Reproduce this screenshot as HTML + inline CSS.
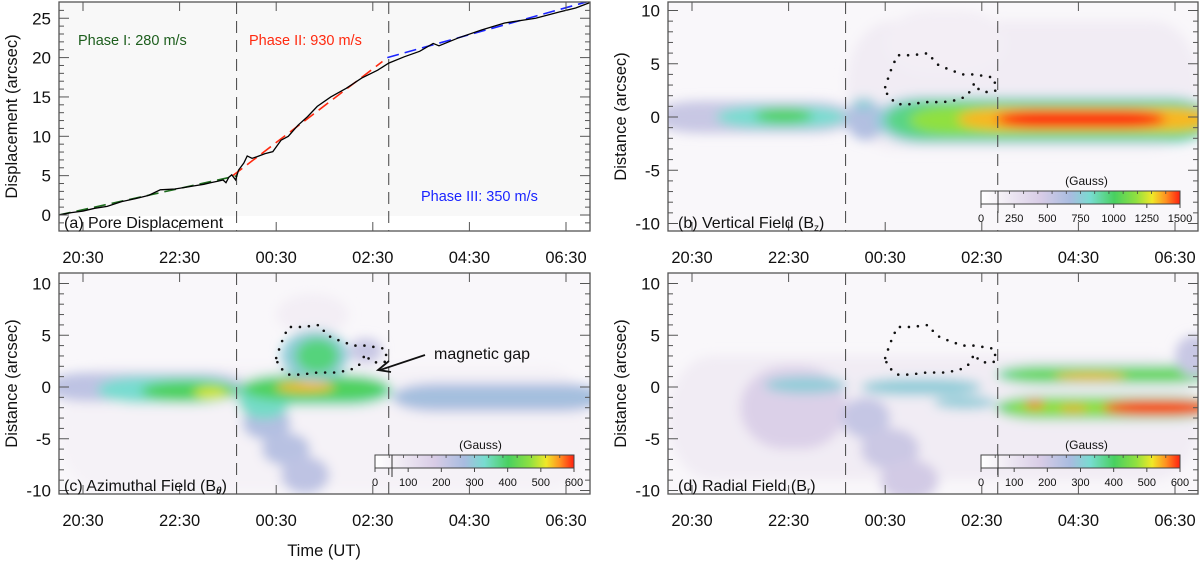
<!DOCTYPE html>
<html><head><meta charset="utf-8">
<style>
html,body{margin:0;padding:0;background:#fff;}
svg{display:block;font-family:"Liberation Sans",Arial,sans-serif;}
</style></head>
<body>
<svg id="fig" width="1200" height="561" viewBox="0 0 1200 561" xmlns="http://www.w3.org/2000/svg">
<defs>
<filter id="blur" filterUnits="userSpaceOnUse" x="0" y="0" width="1200" height="561"><feGaussianBlur stdDeviation="5.5"/></filter>
<linearGradient id="cmap" x1="0" x2="1" y1="0" y2="0">
<stop offset="0" stop-color="#ffffff"/><stop offset="0.1" stop-color="#f4f0f6"/>
<stop offset="0.3" stop-color="#d8cce6"/><stop offset="0.45" stop-color="#a8bce0"/>
<stop offset="0.55" stop-color="#78dcd0"/><stop offset="0.67" stop-color="#48d060"/>
<stop offset="0.78" stop-color="#90e040"/><stop offset="0.86" stop-color="#f0e828"/>
<stop offset="0.93" stop-color="#ff9020"/><stop offset="1" stop-color="#ff2010"/>
</linearGradient>
</defs>
</svg>
<script>
// ---- Panel (a) data: pore displacement ----
const dispTime=[-0.5,-0.24,0.0,0.24,0.5,0.8,1.1,1.36,1.6,1.9,2.1,2.3,2.5,2.64,2.8,2.9,2.96,3.02,3.08,3.16,3.22,3.33,3.4,3.5,3.6,3.77,3.93,4.1,4.25,4.45,4.65,4.85,5.13,5.45,5.77,6.1,6.33,6.65,6.97,7.25,7.37,7.77,8.25,8.73,9.37,9.86,10.2,10.5];
const dispVal=[0,0.3,0.5,0.85,1.1,1.7,2.1,2.5,3.2,3.3,3.5,3.7,3.9,4.1,4.3,4.45,4.1,4.8,5.1,4.45,5.7,6.6,7.5,7.2,7.4,7.8,8.05,9.5,10,11.4,12.5,13.8,15,16.1,17.4,18.4,19.3,20.1,20.8,21.8,21.5,22.5,23.5,24.4,25,25.8,26.3,27];
const fitPhase1=[[-0.5,0],[3.2,5]];
const fitPhase2=[[3.1,5],[6.2,19.5]];
const fitPhase3=[[6.3,20],[10.5,27.2]];
const timeTickLabels=["20:30","22:30","00:30","02:30","04:30","06:30"];
const timeTickValues=[0,2,4,6,8,10];
const phaseBoundaries=[3.18,6.33];
const dispTicks=[0,5,10,15,20,25];
const distTicks=[-10,-5,0,5,10];
// ---- heatmap segments: [tStart,tEnd,centerDist,halfWidth,level(0-1)] ----
const bzSegments=[[3.2,10.5,3,6,0.12],[4,6.5,7,3,0.11],[-0.8,3.4,0,1.5,0.35],[0.5,3.2,0,1.0,0.55],[1.3,2.5,0.1,0.7,0.68],[3.2,4.0,-0.3,1.9,0.42],[3.3,3.8,1.2,0.6,0.5],[3.8,10.8,-0.3,2.2,0.5],[4.0,10.8,-0.3,1.8,0.63],[4.5,10.8,-0.3,1.35,0.78],[5.5,10.8,-0.2,1.0,0.9],[6.3,9.8,-0.2,0.85,1.0]];
const bthSegments=[[-0.5,10.5,-4,6,0.09],[4,5.5,7,2,0.11],[3.3,4.3,-3.5,1.6,0.42],[3.7,4.7,-6,1.6,0.4],[4.1,5.1,-8.5,1.8,0.38],[-0.8,3.4,0,1.4,0.38],[0.3,3.2,-0.3,1.3,0.55],[1.2,3.2,-0.4,1.0,0.68],[2.3,3.0,-0.6,0.6,0.84],[3.2,6.4,-0.3,1.5,0.58],[3.2,4.3,-1.3,1.8,0.56],[3.3,6.3,-0.2,1.1,0.68],[4.0,5.2,0,0.5,0.9],[4.1,5.5,3,2.5,0.5],[4.4,5.3,3,1.7,0.64],[5.5,6.2,3.5,1.2,0.35],[6.4,10.8,-1,1.4,0.4],[6.4,10.8,-1,0.9,0.46]];
const brSegments=[[-0.5,10.5,-3,6,0.12],[1,3.2,-2,4,0.28],[3.1,4.1,-3,2,0.36],[3.5,4.7,-6,2,0.34],[3.9,5.1,-9,2,0.32],[1.5,3.2,0.2,0.8,0.5],[3.5,6,0,0.8,0.5],[5,6.3,-1.5,0.6,0.5],[6.3,10.8,1.2,0.9,0.6],[6.5,10.8,1.2,0.6,0.72],[7.5,9,1,0.4,0.9],[6.3,10.8,-2,1.1,0.65],[6.5,10.8,-2,0.8,0.78],[8.5,10.8,-2,0.7,1.0],[6.9,7.3,-1.7,0.4,0.95],[7.6,8.2,-2.1,0.3,0.92],[10,10.8,3,2,0.35]];
// contour of magnetic gap: [time, distance]
const gapContour=[[4.0,2.8],[4.1,4.2],[4.25,5.8],[4.55,5.8],[4.9,6],[5.05,5],[5.3,4.5],[5.6,4],[5.85,4],[6.25,3.7],[6.3,2.5],[6.15,2.3],[5.95,2.5],[5.85,3.2],[5.7,2],[5.5,1.6],[5.2,1.4],[4.85,1.4],[4.5,1.2],[4.25,1.2],[4.05,2]];
const bzBarLabels=["0","250","500","750","1000","1250","1500"];
const bBarLabels=["0","100","200","300","400","500","600"];

const NS="http://www.w3.org/2000/svg";
const svg=document.getElementById('fig');
function mk(tag,attrs,parent){const e=document.createElementNS(NS,tag);for(const k in attrs)e.setAttribute(k,attrs[k]);(parent||svg).appendChild(e);return e;}
function cstops(){return [[0,[255,255,255]],[0.1,[244,240,246]],[0.3,[216,204,230]],[0.45,[168,188,224]],[0.55,[120,220,208]],[0.67,[72,208,96]],[0.78,[144,224,64]],[0.86,[240,232,40]],[0.93,[255,144,32]],[1,[255,32,16]]];}
function cmap(v){const s=cstops();for(let i=1;i<s.length;i++){if(v<=s[i][0]){const f=(v-s[i-1][0])/(s[i][0]-s[i-1][0]);const c=s[i-1][1].map((a,j)=>Math.round(a+(s[i][1][j]-a)*f));return `rgb(${c})`;}}return 'rgb(255,32,16)';}

function panel(cfg){
  const {L,R,T,B,y0,ys,id}=cfg;
  const X=t=>L+24+48.3*t;
  const Y=d=>y0-ys*d;
  const g=mk('g',{});
  
  
  mk('clipPath',{id:'clip-'+id},g);
  mk('rect',{x:L,y:T,width:R-L,height:B-T},g.lastChild);
  return {g,X,Y,...cfg};
}
function axes(p,yt,minorStep,ylab){
  const {g,L,R,T,B,X,Y}=p;
  mk('rect',{x:L,y:T,width:R-L,height:B-T,fill:'none',stroke:'#555','stroke-width':1.3},g);
  timeTickValues.forEach((t,i)=>{
    const x=X(t);
    mk('line',{x1:x,x2:x,y1:B,y2:B-9,stroke:'#555'},g);
    mk('line',{x1:x,x2:x,y1:T,y2:T+9,stroke:'#555'},g);
    const tx=mk('text',{x:x,y:B+32,'font-size':16.5,'text-anchor':'middle',fill:'#111'},g);
    
    
    tx.textContent=timeTickLabels[i];
  });
  const hi=yt[yt.length-1]+minorStep*4;
  for(let v=yt[0]-minorStep*3; v<=hi; v+=minorStep){
    const y=Y(v); if(y<T+1||y>B-1) continue;
    const major=yt.some(m=>Math.abs(m-v)<1e-6);
    const len=major?10:5;
    mk('line',{x1:L,x2:L+len,y1:y,y2:y,stroke:'#555'},g);
    mk('line',{x1:R,x2:R-len,y1:y,y2:y,stroke:'#555'},g);
  }
  yt.forEach(v=>{
    const tx=mk('text',{x:L-8,y:Y(v)+6,'font-size':17,'text-anchor':'end',fill:'#111'},g);
    
    
    tx.textContent=String(v);
  });
  const cy=(T+B)/2;
  const yl=mk('text',{x:0,y:0,'font-size':16.5,'text-anchor':'middle',fill:'#111',transform:`translate(${L-42},${cy}) rotate(-90)`},g);
  
  
  yl.textContent=ylab;
}
function dashed(p){
  phaseBoundaries.forEach(t=>{
    const l=mk('line',{x1:p.X(t),x2:p.X(t),y1:p.T,y2:p.B,stroke:'#444','stroke-width':1,'stroke-dasharray':'12,7'},p.g);
    
    
  });
}
function heat(p,segs){
  mk('rect',{x:p.L,y:p.T,width:p.R-p.L,height:p.B-p.T,fill:'#f9f7fa'},p.g);
  const hg=mk('g',{'clip-path':`url(#clip-${p.id})`},p.g);
  const fg=mk('g',{filter:'url(#blur)'},hg);
  segs.forEach(s=>{
    const x1=p.X(s[0]),x2=p.X(s[1]),yT=p.Y(s[2]+s[3]),yB=p.Y(s[2]-s[3]);
    const r=mk('rect',{x:x1,y:yT,width:x2-x1,height:yB-yT,rx:Math.min(45,(x2-x1)/2),ry:(yB-yT)/2,fill:cmap(s[4])},fg);
    
    
  });
  const pts=gapContour.map(c=>`${p.X(c[0])},${p.Y(c[1])}`).join(' ');
  const pg=mk('polygon',{points:pts,fill:'none',stroke:'#111','stroke-width':2.6,'stroke-linecap':'round','stroke-dasharray':'0,9'},p.g);
  
  
}
function colorbar(p,x1,x2,yt,labels,id){
  const g=mk('g',{},p.g);
  
  
  mk('rect',{x:x1,y:yt,width:x2-x1,height:13,fill:'url(#cmap)',stroke:'#444','stroke-width':1},g);
  const t=mk('text',{x:(x1+x2)/2+6,y:yt-6,'font-size':12,'text-anchor':'middle',fill:'#111'},g);t.textContent='(Gauss)';
  labels.forEach((lb,i)=>{
    const xp=i==0?x1:x1+ (x2-x1)/ (labels.length-1)*i*( (x2-x1-33)/(x2-x1) ) + 33*( i/(labels.length-1) );
    const tx=mk('text',{x:xp,y:yt+31,'font-size':11,'text-anchor':'middle',fill:'#111'},g);
    tx.textContent=lb;
    mk('line',{x1:xp,x2:xp,y1:yt+13,y2:yt+17,stroke:'#444'},g);
  });
  for(let k=1;k<14;k++){const x=x1+(x2-x1)*k/14;mk('line',{x1:x,x2:x,y1:yt,y2:yt+3,stroke:'#444','stroke-width':0.8},g);}
  mk('line',{x1:x1+17,x2:x1+17,y1:yt,y2:yt+22,stroke:'#333'},g);
}

// Panel a
const pa=panel({L:59,R:590,T:2,B:231,y0:215,ys:7.87,id:'panel-a-displacement'});
mk('rect',{x:59,y:2,width:531,height:214,fill:'#f8f8f8'},pa.g);
dashed(pa);
[[fitPhase1,'#1d6b1d','fit-phase-1'],[fitPhase2,'#ff2a10','fit-phase-2'],[fitPhase3,'#1a24ff','fit-phase-3']].forEach(f=>{
  const l=mk('line',{x1:pa.X(f[0][0][0]),y1:pa.Y(f[0][0][1]),x2:pa.X(f[0][1][0]),y2:pa.Y(f[0][1][1]),stroke:f[1],'stroke-width':1.6,'stroke-dasharray':'12,6','clip-path':'url(#clip-panel-a-displacement)'},pa.g);
  
  
});
const dline=mk('polyline',{points:dispTime.map((t,i)=>`${pa.X(t)},${pa.Y(dispVal[i])}`).join(' '),fill:'none',stroke:'#000','stroke-width':1.3,'clip-path':'url(#clip-panel-a-displacement)'},pa.g);


axes(pa,dispTicks,1,'Displacement (arcsec)');
[['Phase I: 280 m/s',78,45,'#1d5e1d','phase-1-label'],['Phase II: 930 m/s',249,45,'#ff2a10','phase-2-label'],['Phase III: 350 m/s',421,201,'#1a24ff','phase-3-label']].forEach(a=>{
  const t=mk('text',{x:a[1],y:a[2],'font-size':14.5,fill:a[3]},pa.g);
  
  
  t.textContent=a[0];
});
const ta=mk('text',{x:64,y:228,'font-size':16,fill:'#111'},pa.g);


ta.textContent='(a) Pore Displacement';

// Panel b
const pb=panel({L:668,R:1198,T:2,B:231,y0:117,ys:10.65,id:'panel-b-vertical-field'});
heat(pb,bzSegments);
dashed(pb);
axes(pb,distTicks,1,'Distance (arcsec)');
colorbar(pb,981,1180,191,bzBarLabels,'bz-colorbar');
const tb=mk('text',{x:678,y:228,'font-size':16,fill:'#111'},pb.g);


tb.innerHTML='(b) Vertical Field (B<tspan font-size="10" dy="3">z</tspan><tspan dy="-3">)</tspan>';

// Panel c
const pc=panel({L:59,R:590,T:273,B:494,y0:387,ys:10.35,id:'panel-c-azimuthal-field'});
heat(pc,bthSegments);
dashed(pc);
axes(pc,distTicks,1,'Distance (arcsec)');
colorbar(pc,375,574,455,bBarLabels,'btheta-colorbar');
const tc=mk('text',{x:64,y:491,'font-size':16,fill:'#111'},pc.g);


tc.innerHTML='(c) Azimuthal Field (B<tspan font-size="10" dy="3" font-weight="bold" font-style="italic">θ</tspan><tspan dy="-3">)</tspan>';
const mg=mk('text',{x:434,y:359,'font-size':16,fill:'#111'},pc.g);


mg.textContent='magnetic gap';
const ar=mk('line',{x1:425,y1:355,x2:380,y2:370,stroke:'#111','stroke-width':1.8},pc.g);


mk('polyline',{points:'389,361 378,370 391,372',fill:'none',stroke:'#111','stroke-width':1.8},pc.g);
const xt=mk('text',{x:324,y:556,'font-size':16.5,'text-anchor':'middle',fill:'#111'},pc.g);


xt.textContent='Time (UT)';

// Panel d
const pd=panel({L:668,R:1198,T:273,B:494,y0:387,ys:10.35,id:'panel-d-radial-field'});
heat(pd,brSegments);
dashed(pd);
axes(pd,distTicks,1,'Distance (arcsec)');
colorbar(pd,981,1180,455,bBarLabels,'br-colorbar');
const td=mk('text',{x:678,y:491,'font-size':16,fill:'#111'},pd.g);


td.innerHTML='(d) Radial Field (B<tspan font-size="10" dy="3">r</tspan><tspan dy="-3">)</tspan>';
</script>
</body></html>
